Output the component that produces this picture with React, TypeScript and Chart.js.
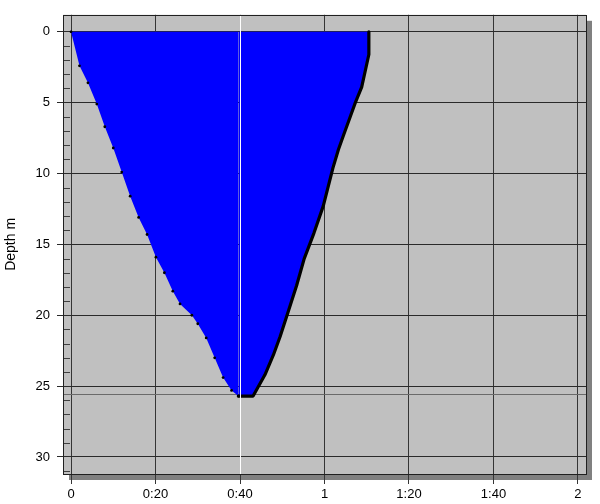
import React, { useEffect, useRef } from "react";
import { Chart, registerables } from "chart.js";

Chart.register(...registerables);

// Dive profile: time in minutes, depth in metres
const descentTimes = [0, 2, 4, 6.1, 8, 10, 12, 14, 16, 18, 20.1, 22.1, 24.1, 25.8, 28.6, 30, 32, 34, 36, 38, 39.6];
const descentDepths = [0, 2.4, 3.6, 5.1, 6.7, 8.2, 9.9, 11.6, 13.1, 14.3, 15.9, 17.0, 18.3, 19.2, 20.0, 20.6, 21.6, 23.0, 24.4, 25.3, 25.7];
const ascentTimes = [43.1, 45.9, 47.9, 49.5, 51.4, 53.4, 55.2, 57.5, 59.7, 62.0, 63.3, 64.5, 66.2, 67.3, 68.8, 70.5, 70.5];
const ascentDepths = [25.7, 24.2, 22.8, 21.5, 19.75, 17.9, 16.0, 14.2, 12.3, 9.6, 8.3, 7.3, 5.9, 5.0, 3.9, 1.6, 0];

const maxDepth = 25.55;
const markerTime = 40;

const xTickValues = [0, 20, 40, 60, 80, 100, 120];
const xTickLabels = ["0", "0:20", "0:40", "1", "1:20", "1:40", "2"];
const yMinorTicks = [1, 2, 3, 4, 6, 7, 8, 9, 11, 12, 13, 14, 16, 17, 18, 19, 21, 22, 23, 24, 26, 27, 28, 29, 31];

const xMin = -1.9;
const xMax = 121.9;
const yMin = -1.2;
const yMax = 31.2;

const FONT = "Arial, 'Liberation Sans', sans-serif";

const framePlugin = {
  id: "frame",
  beforeDraw(chart: any) {
    const { ctx, chartArea: a } = chart;
    ctx.save();
    ctx.fillStyle = "#808080";
    ctx.fillRect(a.left + 6, a.top + 6, a.right - a.left, a.bottom - a.top);
    ctx.fillStyle = "#c0c0c0";
    ctx.fillRect(a.left, a.top, a.right - a.left, a.bottom - a.top);
    ctx.restore();
  },
  beforeDatasetsDraw(chart: any) {
    const { ctx, chartArea: a, scales } = chart;
    ctx.save();
    ctx.strokeStyle = "#404040";
    ctx.lineWidth = 1;
    for (const d of yMinorTicks) {
      const y = Math.round(scales.y.getPixelForValue(d)) + 0.5;
      ctx.beginPath();
      ctx.moveTo(a.left, y);
      ctx.lineTo(a.left + 7, y);
      ctx.stroke();
    }
    // maximum depth line
    const ym = Math.round(scales.y.getPixelForValue(maxDepth)) + 0.5;
    ctx.strokeStyle = "#6a6a6a";
    ctx.beginPath();
    ctx.moveTo(a.left, ym);
    ctx.lineTo(a.right, ym);
    ctx.stroke();
    ctx.restore();
  },
  afterDatasetsDraw(chart: any) {
    const { ctx, chartArea: a, scales } = chart;
    ctx.save();
    const xm = Math.round(scales.x.getPixelForValue(markerTime)) + 0.5;
    ctx.strokeStyle = "#ffffff";
    ctx.lineWidth = 1;
    ctx.beginPath();
    ctx.moveTo(xm, a.top);
    ctx.lineTo(xm, a.bottom);
    ctx.stroke();
    ctx.restore();
  },
  afterDraw(chart: any) {
    const { ctx, chartArea: a } = chart;
    ctx.save();
    ctx.strokeStyle = "#202020";
    ctx.lineWidth = 1;
    ctx.strokeRect(Math.round(a.left) + 0.5, Math.round(a.top) + 0.5, Math.round(a.right - a.left), Math.round(a.bottom - a.top));
    ctx.restore();
  },
};

export default function App() {
  const ref = useRef<HTMLCanvasElement | null>(null);

  useEffect(() => {
    if (!ref.current) return;
    const profile = [
      ...descentTimes.map((t, i) => ({ x: t, y: descentDepths[i] })),
      ...ascentTimes.map((t, i) => ({ x: t, y: ascentDepths[i] })),
    ];
    const bottomIndex = descentTimes.length - 1;
    const nDescent = descentTimes.length;

    const chart = new Chart(ref.current, {
      type: "scatter",
      data: {
        datasets: [
          {
            data: profile,
            showLine: true,
            fill: "origin",
            backgroundColor: "#0000ff",
            borderColor: "#000000",
            borderWidth: 3.2,
            borderJoinStyle: "round",
            borderCapStyle: "round",
            tension: 0,
            segment: {
              borderColor: (ctx: any) => (ctx.p0DataIndex >= bottomIndex ? "#000000" : "rgba(0,0,0,0)"),
              borderWidth: (ctx: any) => (ctx.p0DataIndex >= bottomIndex ? 3.2 : 0),
            },
            pointRadius: (ctx: any) => (ctx.dataIndex < nDescent ? 1.4 : 0),
            pointBackgroundColor: "#000000",
            pointBorderWidth: 0,
          },
        ],
      },
      options: {
        responsive: false,
        animation: false,
        devicePixelRatio: 1,
        layout: { padding: { top: 10, right: 14, bottom: 0, left: 0 } },
        plugins: { legend: { display: false }, tooltip: { enabled: false } },
        scales: {
          x: {
            type: "linear",
            position: "bottom",
            min: xMin,
            max: xMax,
            afterFit: (s: any) => {
              s.height = 30;
            },
            ticks: {
              stepSize: 20,
              includeBounds: false,
              autoSkip: false,
              maxRotation: 0,
              padding: 3,
              color: "#000000",
              font: { family: FONT, size: 13 },
              callback: (v: any) => {
                const i = xTickValues.indexOf(Number(v));
                return i >= 0 ? xTickLabels[i] : "";
              },
            },
            grid: { color: "#353535", lineWidth: 1, tickLength: 10 },
            border: { display: false },
          },
          y: {
            type: "linear",
            position: "left",
            reverse: true,
            min: yMin,
            max: yMax,
            afterFit: (s: any) => {
              s.width = 63;
            },
            ticks: {
              stepSize: 5,
              includeBounds: false,
              autoSkip: false,
              padding: 7,
              color: "#000000",
              font: { family: FONT, size: 13 },
            },
            grid: { color: "#2a2a2a", lineWidth: 1, tickLength: 6 },
            border: { display: false },
            title: {
              display: true,
              text: "Depth m",
              color: "#000000",
              font: { family: FONT, size: 14 },
              padding: { top: 3, bottom: 0 },
            },
          },
        },
      },
      plugins: [framePlugin],
    } as any);
    return () => chart.destroy();
  }, []);

  return (
    <div style={{ position: "absolute", left: 0, top: 0, width: 600, height: 504, background: "#ffffff" }}>
      <canvas ref={ref} width={600} height={504} style={{ width: 600, height: 504, display: "block" }} />
    </div>
  );
}
